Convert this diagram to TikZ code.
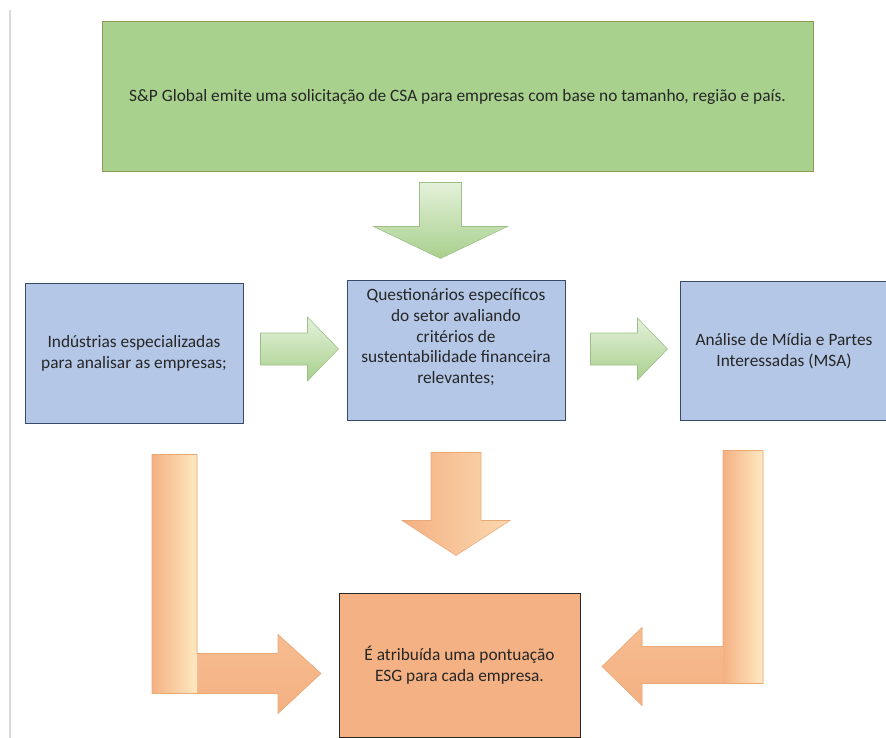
\documentclass[tikz,border=0pt]{standalone}
\usepackage{fontspec}
\setmainfont{Carlito}
\usetikzlibrary{positioning,calc}

\definecolor{greenfill}{HTML}{A9D18E}
\definecolor{greenline}{HTML}{8E9A57}
\definecolor{bluefill}{HTML}{B4C7E7}
\definecolor{blueline}{HTML}{3A4A68}
\definecolor{orangefill}{HTML}{F4B183}
\definecolor{orangelight}{HTML}{FFE9C2}
\definecolor{orangeedge}{HTML}{E9A877}
\definecolor{arrowgreen}{HTML}{A8D08D}
\definecolor{arrowlight}{HTML}{E4F1DA}
\definecolor{arrowedge}{HTML}{9DBF86}
\definecolor{textgray}{HTML}{262626}
\definecolor{rulegray}{HTML}{D9D9D9}

\tikzset{
  txt/.style={inner sep=0pt, align=center, text=textgray,
    font=\fontsize{13}{15.5}\selectfont},
  box/.style={txt, rectangle, line width=0.75pt},
  greenbox/.style={box, fill=greenfill, draw=greenline},
  bluebox/.style={box, fill=bluefill, draw=blueline},
  orangebox/.style={box, fill=orangefill, draw=black!85},
  greenarrow/.style={draw=arrowedge, line width=0.4pt,
    top color=arrowlight, bottom color=arrowgreen},
  orangearrow/.style={draw=orangeedge, line width=0.4pt,
    left color=orangefill, right color=orangelight!70!orangefill},
  orangeL/.style={draw=orangeedge, line width=0.4pt, fill=orangefill},
  barshade/.style={left color=orangefill, middle color=orangefill!75!orangelight,
    right color=orangelight},
  headshade/.style={top color=orangelight!65!orangefill, bottom color=orangefill}
}

\begin{document}
\begin{tikzpicture}[x=0.75pt,y=-0.75pt]
  \useasboundingbox (0,0) rectangle (886,738);
  \fill[white] (0,0) rectangle (886,738);
  \draw[rulegray, line width=1.5pt] (10,10) -- (10,738);

  % boxes
  \node[greenbox, minimum width=533.25pt, minimum height=112.5pt] (csa) at (457.5,97)
    {S\&P Global emite uma solicitação de CSA para empresas com base no tamanho, região e país.};
  \node[bluebox, minimum width=163.5pt, minimum height=104.25pt] (ind) at (134,353.5)
    {Indústrias especializadas\\para analisar as empresas;};
  \node[bluebox, minimum width=163.5pt, minimum height=104.25pt] (quest) at (456,350.5) {};
  \node[txt, below=6pt of quest.north] (questtxt)
    {Questionários específicos\\do setor avaliando\\critérios de\\sustentabilidade financeira\\relevantes;};
  \node[bluebox, minimum width=156pt, minimum height=103.5pt] (msa) at (784,351)
    {Análise de Mídia e Partes\\Interessadas (MSA)};
  \node[orangebox, minimum width=180.75pt, minimum height=108pt] (esg) at (459.5,665)
    {É atribuída uma pontuação\\ESG para cada empresa.};

  % green arrows
  \path[greenarrow] ($(csa.south)+(-38,10)$) -- ++(42,0) -- ++(0,44) -- ++(46,0)
    -- ++(-67,32) -- ++(-67,-32) -- ++(46,0) -- cycle;
  \path[greenarrow] ($(ind.east)+(17,-20.5)$) -- ++(47,0) -- ++(0,-16) -- ++(31,32)
    -- ++(-31,32) -- ++(0,-16) -- ++(-47,0) -- cycle;
  \path[greenarrow] ($(quest.east)+(25,-17.5)$) -- ++(47,0) -- ++(0,-15) -- ++(30,31)
    -- ++(-30,31) -- ++(0,-15) -- ++(-47,0) -- cycle;

  % orange arrows
  \coordinate (lbar) at ($(ind.south)+(18,31)$);
  \coordinate (rbar) at ($(msa.south)+(-61,30)$);
  \path[orangearrow] ($(quest.south)+(-25,32)$) -- ++(50,0) -- ++(0,68) -- ++(29,0)
    -- ++(-54,35) -- ++(-54,-35) -- ++(29,0) -- cycle;
  \path[orangeL, path picture={
      \shade[headshade] ($(lbar)+(45,180)$) rectangle ++(124,79);
      \shade[barshade] (lbar) rectangle ++(45,239);}]
    (lbar) -- ++(45,0) -- ++(0,199) -- ++(81,0) -- ++(0,-19)
    -- ++(43,39) -- ++(-43,40) -- ++(0,-20) -- ++(-126,0) -- cycle;
  \path[orangeL, path picture={
      \shade[headshade] ($(rbar)+(-121,177)$) rectangle ++(121,78);
      \shade[barshade] (rbar) rectangle ++(40,233);}]
    (rbar) -- ++(40,0) -- ++(0,233) -- ++(-121,0) -- ++(0,22)
    -- ++(-40,-39) -- ++(40,-39) -- ++(0,19) -- ++(81,0) -- cycle;
\end{tikzpicture}
\end{document}
